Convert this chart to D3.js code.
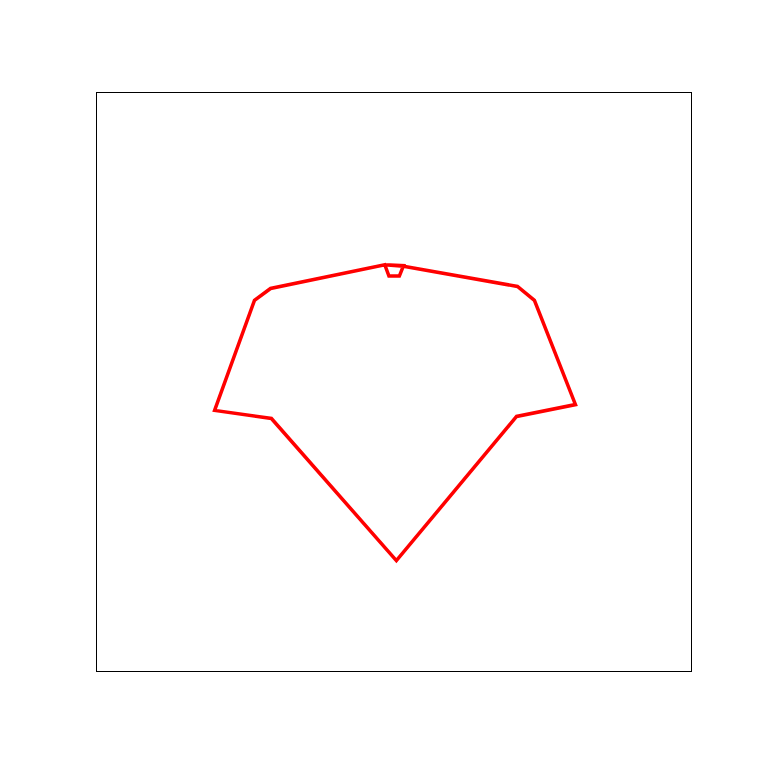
<!DOCTYPE html>
<html>
<head>
<meta charset="utf-8">
<script src="https://cdn.jsdelivr.net/npm/d3@7"></script>
<style>
  html, body { margin: 0; padding: 0; background: #fff; }
  svg { display: block; }
</style>
</head>
<body>
<script>
// Data (in plot units, domain [-1, 1] on both axes)
const xValues = [-0.031, 0.032, 0.018, -0.017, -0.031, -0.415, -0.469, -0.603, -0.412, 0.008, 0.412, 0.610, 0.472, 0.415, 0.032, -0.031];
const yValues = [0.405, 0.402, 0.366, 0.366, 0.405, 0.323, 0.282, -0.098, -0.126, -0.617, -0.119, -0.078, 0.282, 0.330, 0.400, 0.405];
const xDomain = [-1, 1];
const yDomain = [-1, 1];

const W = 768, H = 768;
const margin = {left: 96.5, top: 92.5, right: 768 - 691.5, bottom: 768 - 671.5};

const svg = d3.select("body").append("svg").attr("width", W).attr("height", H);

const x = d3.scaleLinear().domain(xDomain).range([margin.left, W - margin.right]);
const y = d3.scaleLinear().domain(yDomain).range([H - margin.bottom, margin.top]);

svg.append("rect")
  .attr("x", x(xDomain[0])).attr("y", y(yDomain[1]))
  .attr("width", x(xDomain[1]) - x(xDomain[0]))
  .attr("height", y(yDomain[0]) - y(yDomain[1]))
  .attr("fill", "none").attr("stroke", "#000").attr("stroke-width", 1);

const pts = xValues.map((v, i) => [v, yValues[i]]);
const line = d3.line().x(d => x(d[0])).y(d => y(d[1]));

svg.append("path")
  .datum(pts)
  .attr("d", line)
  .attr("fill", "none")
  .attr("stroke", "#f00")
  .attr("stroke-width", 3.5)
  .attr("stroke-linejoin", "miter");
</script>
</body>
</html>
